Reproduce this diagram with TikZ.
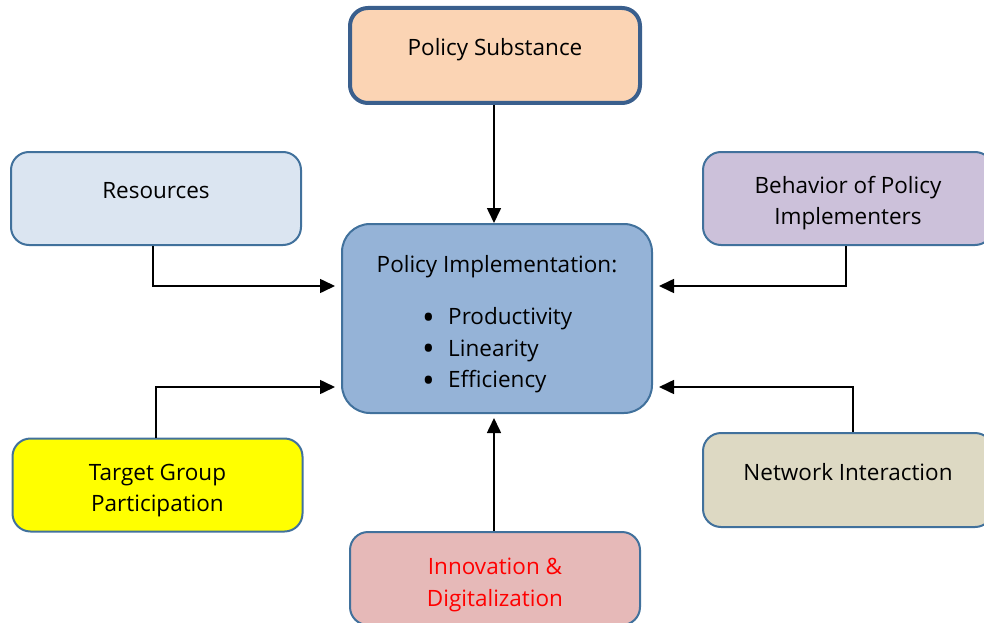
\documentclass[tikz,border=0pt]{standalone}
\usepackage{fontspec}
\setmainfont{Open Sans}
\usetikzlibrary{arrows.meta}

\definecolor{edgeblue}{RGB}{65,113,156}
\definecolor{substfill}{HTML}{FBD4B4}
\definecolor{resfill}{HTML}{DBE5F1}
\definecolor{behavfill}{HTML}{CCC1DA}
\definecolor{implfill}{HTML}{95B3D7}
\definecolor{targetfill}{RGB}{255,255,0}
\definecolor{netfill}{HTML}{DDD9C3}
\definecolor{innofill}{HTML}{E6B9B8}
\definecolor{innotext}{RGB}{255,0,0}
\newcommand{\implbullet}{\makebox[26pt][l]{\raisebox{-4.5pt}[0pt][0pt]{\scalebox{1.5}{\textbullet}}}}

\begin{document}
\begin{tikzpicture}[x=1pt,y=-1pt,
    box/.style={draw=edgeblue, line width=2pt, rounded corners=18pt, inner sep=0pt,
                minimum width=290pt, minimum height=93pt},
    txt/.style={inner sep=0pt, align=center, font=\fontsize{22.5}{31.5}\selectfont},
    arr/.style={line width=1.6pt, -{Triangle[length=15pt,width=14pt]}}]
    \useasboundingbox (0,0) rectangle (984,623);
    % boxes
    \node [box, fill=substfill, line width=4pt, draw={rgb,255:red,58;green,95;blue,141},
           minimum height=95pt] (subst) at (495,55.5) {};
    \node [txt] (substtxt) at (495,49.5) {Policy Substance};
    \node [box, fill=resfill] (res) at (156,198.5) {};
    \node [txt] (restxt) at (156,191) {Resources};
    \node [box, fill=behavfill] (behav) at (848,198.5) {};
    \node [txt] (behavtxt) at (848,203) {Behavior of Policy\\Implementers};
    \node [box, fill=implfill, minimum width=310pt, minimum height=189pt, rounded corners=28pt]
          (impl) at (497,318.5) {};
    \node [txt] (impltxt) at (497,267) {Policy Implementation:};
    \node [txt, align=left, anchor=west] (impllist) at (422,350.5)
          {\implbullet Productivity\\\implbullet Linearity\\\implbullet Efficiency};
    \node [box, fill=targetfill] (target) at (157.5,485) {};
    \node [txt] (targettxt) at (157.5,490.5) {Target Group\\Participation};
    \node [box, fill=netfill, minimum height=94pt] (net) at (848,480) {};
    \node [txt] (nettxt) at (848,472.5) {Network Interaction};
    \node [box, fill=innofill] (inno) at (495,578.5) {};
    \node [txt, text=innotext] (innotxt) at (495,585) {Innovation \&\\Digitalization};
    % connectors
    \draw [arr] ([xshift=-1pt]subst.south) -- ([xshift=-1pt]subst.south |- impl.north);
    \draw [arr] ([xshift=-3pt]res.south) |- ([xshift=-6pt,yshift=32.5pt]impl.west);
    \draw [arr] ([xshift=-1.5pt]target.north) |- ([xshift=-6pt,yshift=-68.5pt]impl.west);
    \draw [arr] ([xshift=-2pt]behav.south) |- ([xshift=6pt,yshift=32.5pt]impl.east);
    \draw [arr] ([xshift=5pt]net.north) |- ([xshift=6pt,yshift=-68.5pt]impl.east);
    \draw [arr] ([xshift=-1pt]inno.north) -- ([xshift=-1pt,yshift=-4pt]inno.north |- impl.south);
\end{tikzpicture}
\end{document}
